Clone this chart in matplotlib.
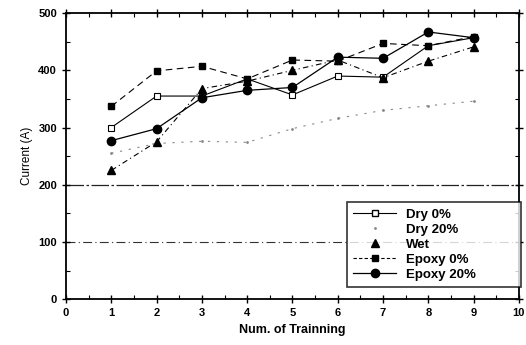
import numpy as np
import matplotlib.pyplot as plt
from matplotlib.lines import Line2D
from matplotlib.ticker import MultipleLocator

plt.rcParams['font.family'] = ['Liberation Sans', 'DejaVu Sans']

# data
x = [1, 2, 3, 4, 5, 6, 7, 8, 9]
dry0 = [300, 355, 355, 385, 357, 390, 388, 443, 457]
dry20 = [255, 272, 276, 274, 298, 316, 330, 338, 346]
wet = [225, 275, 368, 381, 400, 418, 387, 416, 441]
epoxy0 = [337, 399, 407, 385, 418, 416, 447, 443, 459]
epoxy20 = [277, 298, 352, 365, 370, 423, 421, 467, 457]

labels = ['Dry 0%', 'Dry 20%', 'Wet', 'Epoxy 0%', 'Epoxy 20%']

fig = plt.figure(figsize=(5.26, 3.45), dpi=100)
ax = fig.add_axes([0.1255, 0.133, 0.861, 0.829])

ax.axhline(100, color='#333333', lw=0.8, ls=(0, (8, 3, 1, 3)), zorder=1)
ax.axhline(200, color='#222222', lw=0.9, ls=(0, (14, 2, 2, 2)), zorder=1)

ax.plot(x, dry20, color='#888888', lw=0.8, ls=(0, (2, 6)), marker='.', ms=2)
ax.plot(x, dry0, color='k', lw=0.8, ls='-', marker='s', ms=4, mfc='white', mec='k', mew=0.8)
ax.plot(x, wet, color='k', lw=0.8, ls=(0, (5, 3, 1, 3)), marker='^', ms=6)
ax.plot(x, epoxy0, color='k', lw=0.8, ls=(0, (6, 4)), marker='s', ms=5)
ax.plot(x, epoxy20, color='k', lw=0.9, ls='-', marker='o', ms=6)

ax.set_xlim(0, 10)
ax.set_ylim(0, 500)
ax.xaxis.set_major_locator(MultipleLocator(1))
ax.xaxis.set_minor_locator(MultipleLocator(0.5))
ax.yaxis.set_major_locator(MultipleLocator(100))
ax.yaxis.set_minor_locator(MultipleLocator(50))
ax.tick_params(which='major', direction='inout', length=6, width=1, labelsize=8,
               top=True, right=True)
ax.tick_params(which='minor', direction='in', length=3, width=0.8, top=True, right=True)
for lab in ax.get_xticklabels() + ax.get_yticklabels():
    lab.set_fontweight('bold')
for s in ax.spines.values():
    s.set_linewidth(1.3)

ax.set_xlabel('Num. of Trainning', fontsize=9, fontweight='bold', labelpad=4)
ax.set_ylabel('Current (A)', fontsize=8.5, labelpad=4)

handles = [
    Line2D([], [], color='k', lw=0.8, marker='s', ms=4, mfc='white'),
    Line2D([], [], color='#888888', lw=0, marker='.', ms=2),
    Line2D([], [], color='k', lw=0, marker='^', ms=6),
    Line2D([], [], color='k', lw=0.8, ls=(0, (3, 2)), marker='s', ms=5),
    Line2D([], [], color='k', lw=0.9, marker='o', ms=6),
]
leg = ax.legend(handles, labels, loc='lower left', bbox_to_anchor=(0.62, 0.042, 0.384, 0.343),
                mode='expand', fontsize=9.5, frameon=True, fancybox=False, edgecolor='k',
                handlelength=3.2, labelspacing=0.2, borderpad=0.5, borderaxespad=0)
leg.get_frame().set_linewidth(1.2)
for t in leg.get_texts():
    t.set_fontweight('bold')

fig.savefig('out.png', dpi=100)
